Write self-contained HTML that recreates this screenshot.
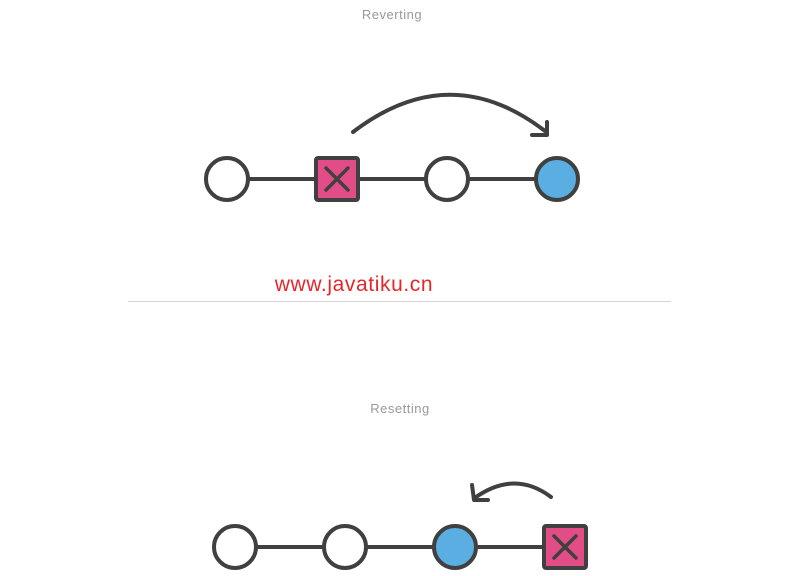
<!DOCTYPE html>
<html><head><style>body{margin:0;background:#fff}svg{display:block}</style></head><body>
<svg width="800" height="576" viewBox="0 0 800 576" xmlns="http://www.w3.org/2000/svg">
<g font-family="Liberation Sans, sans-serif" font-size="13" fill="#999" text-anchor="middle" letter-spacing="0.5">
<text x="392" y="19">Reverting</text>
<text x="400" y="413">Resetting</text>
</g>
<text x="354" y="291" font-family="Liberation Sans, sans-serif" font-size="21" letter-spacing="0.6" fill="#e8262a" text-anchor="middle">www.javatiku.cn</text>
<line x1="128" y1="301.5" x2="671" y2="301.5" stroke="#d4d4d4" stroke-width="1"/>
<g stroke="#404040" stroke-width="4" fill="none" stroke-linecap="round" stroke-linejoin="round">
<line x1="227" y1="179" x2="557" y2="179"/>
<path d="M353 132 Q450 58 545 131"/>
<path d="M547 122 L547 135 L532 135"/>
<line x1="235" y1="547" x2="565" y2="547"/>
<path d="M551 497 Q515 470 476 497"/>
<path d="M472 485 L474 500 L488 500"/>
</g>
<g stroke="#404040" stroke-width="4">
<circle cx="227" cy="179" r="21" fill="#fff"/>
<rect x="316" y="158" width="42" height="42" rx="2" fill="#e24c87"/>
<circle cx="447" cy="179" r="21" fill="#fff"/>
<circle cx="557" cy="179" r="21" fill="#5aaee2"/>
<path d="M326 168 L348 190 M348 168 L326 190" fill="none" stroke-linecap="round" stroke-width="3.5"/>
<circle cx="235" cy="547" r="21" fill="#fff"/>
<circle cx="345" cy="547" r="21" fill="#fff"/>
<circle cx="455" cy="547" r="21" fill="#5aaee2"/>
<rect x="544" y="526" width="42" height="42" rx="2" fill="#e24c87"/>
<path d="M554 536 L576 558 M576 536 L554 558" fill="none" stroke-linecap="round" stroke-width="3.5"/>
</g>
</svg>
</body></html>
